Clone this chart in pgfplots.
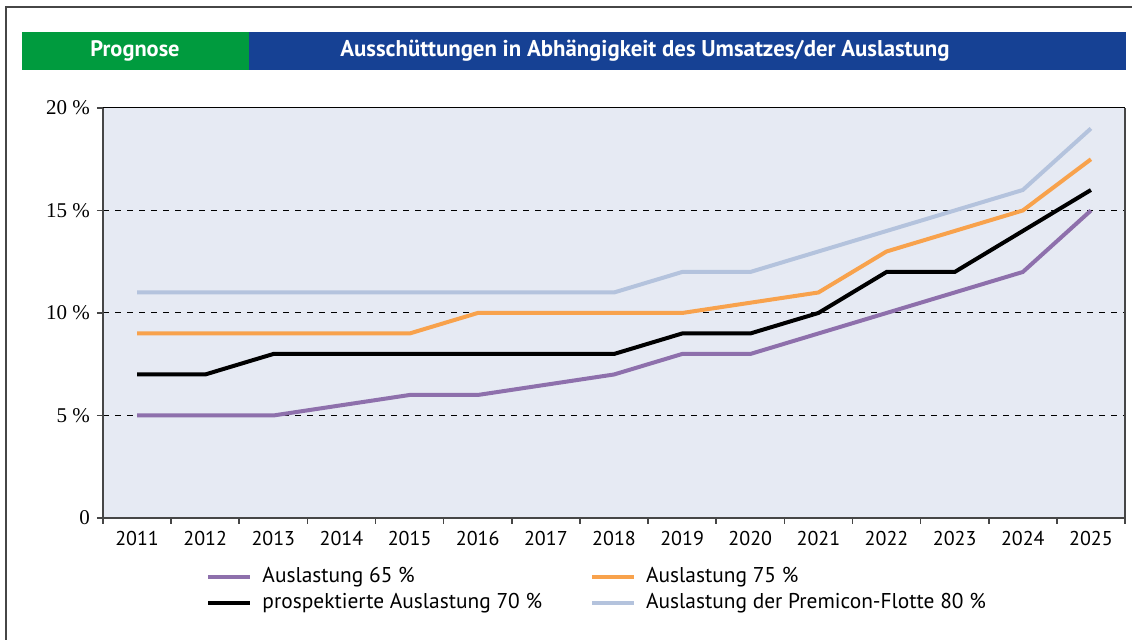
\documentclass[border=0pt]{standalone}
\usepackage{fontspec}
\setmainfont{Liberation Serif}
\newfontfamily\sansf{PT Sans}
\usepackage{pgfplots}
\usepackage{pgfplotstable}
\pgfplotsset{compat=1.18}
\definecolor{hgreen}{RGB}{0,155,62}
\definecolor{hblue}{RGB}{22,65,148}
\definecolor{bgc}{RGB}{230,234,243}
\definecolor{cpurple}{RGB}{142,112,172}
\definecolor{corange}{RGB}{248,162,76}
\definecolor{clblue}{RGB}{180,195,221}
\definecolor{axgray}{RGB}{70,70,70}

\pgfplotstableread{
x a b c d
0 5 9 7 11
1 5 9 7 11
2 5 9 8 11
3 5.5 9 8 11
4 6 9 8 11
5 6 10 8 11
6 6.5 10 8 11
7 7 10 8 11
8 8 10 9 12
9 8 10.5 9 12
10 9 11 10 13
11 10 13 12 14
12 11 14 12 15
13 12 15 14 16
14 15 17.5 16 19
}\datatab

\begin{document}
\begin{tikzpicture}[x=0.5pt,y=0.5pt]
\useasboundingbox (0,0) rectangle (1132,640);
\draw[line width=0.8pt, color=axgray] (6,0) -- (6,633) -- (1132,633);
\fill[hgreen] (22,570) rectangle (249,608);
\fill[hblue] (249,570) rectangle (1126,608);
\node[white, font=\sansf\bfseries\fontsize{11.2}{13}\selectfont] at (135,589) {Prognose};
\node[white, font=\sansf\bfseries\fontsize{11.4}{13}\selectfont] at (645,589) {Ausschüttungen in Abhängigkeit des Umsatzes/der Auslastung};
\begin{axis}[at={(51.5pt,61pt)}, anchor=south west, scale only axis,
  width=511pt, height=205pt,
  xmin=-0.5, xmax=14.5, ymin=0, ymax=20,
  axis background/.style={fill=bgc},
  axis line style={draw=none},
  xtick pos=bottom, ytick pos=left,
  tick align=outside,
  major tick length=3pt,
  ytick={0,5,10,15,20},
  yticklabels={0,5 \%,10 \%,15 \%,20 \%},
  yticklabel style={font=\rmfamily\fontsize{10.5}{12}\selectfont},
  ytick style={draw=axgray, line width=0.8pt},
  ymajorgrids,
  grid style={black, dashed, line width=0.5pt},
  xtick={0,...,14},
  xticklabels={2011,2012,2013,2014,2015,2016,2017,2018,2019,2020,2021,2022,2023,2024,2025},
  xticklabel style={font=\sansf\fontsize{10}{12}\selectfont},
  xtick style={draw=none},
  extra x ticks={-0.5,0.5,...,14.5},
  extra x tick labels={},
  extra x tick style={xtick style={draw=axgray, line width=0.8pt}},
  legend columns=2,
  legend cell align=left,
  legend image code/.code={\draw[#1, line width=2pt] (0,0) -- (21pt,0);},
  legend style={at={(axis description cs:0.095,-0.105)}, anchor=north west,
    draw=none, fill=none, font=\sansf\fontsize{10.7}{12}\selectfont,
    nodes={inner sep=1pt, text height=7.5pt, text depth=2.5pt},
    /tikz/every odd column/.append style={column sep=4pt},
    /tikz/every even column/.append style={column sep=23pt},
    row sep=1pt},
  clip=false,
]
\addplot[cpurple, line width=2pt] table[x=x, y=a] {\datatab};
\addlegendentry{Auslastung 65 \%}
\addplot[corange, line width=2pt] table[x=x, y=b] {\datatab};
\addlegendentry{Auslastung 75 \%}
\addplot[black, line width=2pt] table[x=x, y=c] {\datatab};
\addlegendentry{prospektierte Auslastung 70 \%}
\addplot[clblue, line width=2pt] table[x=x, y=d] {\datatab};
\addlegendentry{Auslastung der Premicon-Flotte 80 \%}
\draw[black, line width=0.5pt] (rel axis cs:0,1) -- (rel axis cs:1,1);
\draw[axgray, line width=1pt] (rel axis cs:0,1) -- (rel axis cs:0,0) -- (rel axis cs:1,0);
\draw[axgray, line width=1.4pt] (rel axis cs:1,0) -- (rel axis cs:1,1);
\end{axis}
\end{tikzpicture}
\end{document}
